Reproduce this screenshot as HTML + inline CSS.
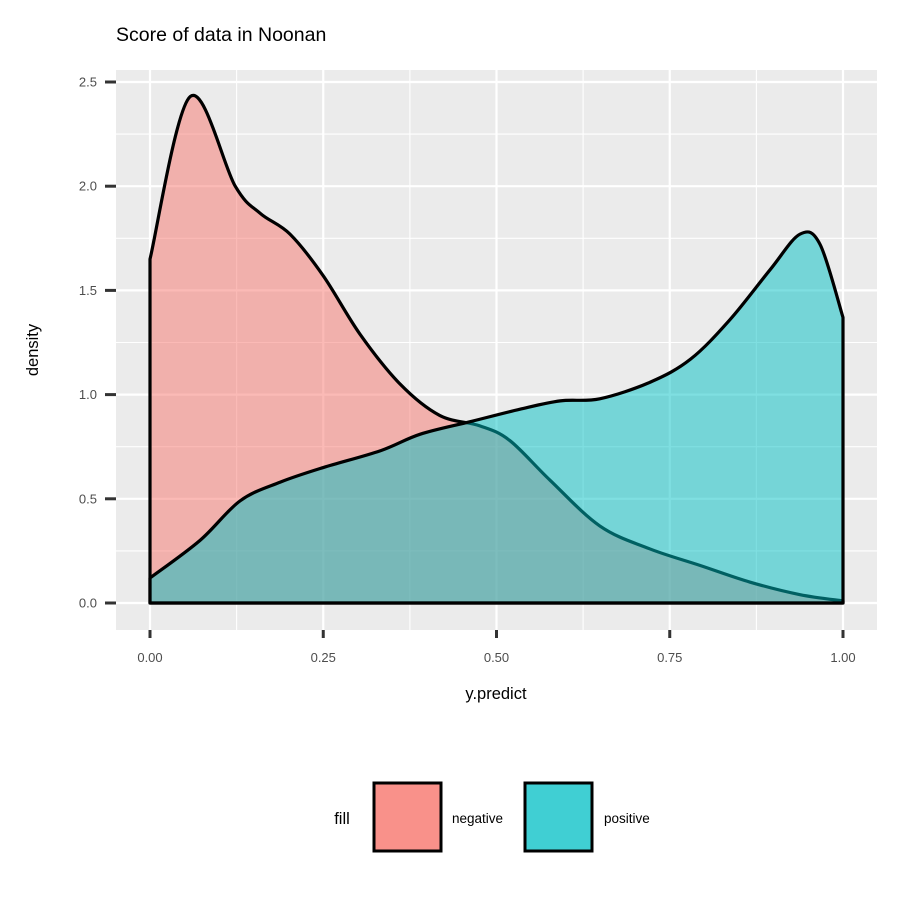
<!DOCTYPE html>
<html><head><meta charset="utf-8"><style>
body{margin:0;background:#fff;font-family:"Liberation Sans",sans-serif}
</style></head><body>
<svg id="chart" width="900" height="900" viewBox="0 0 900 900" xmlns="http://www.w3.org/2000/svg">
<rect width="900" height="900" fill="#fff"/>
<text x="116" y="41" font-size="19.5" fill="#000">Score of data in Noonan</text>
<rect x="116" y="70" width="761" height="560" fill="#ebebeb"/>
<g id="grid"></g>
<g id="areas"></g>
<g id="axes"></g>
<text x="496" y="699" font-size="16.5" text-anchor="middle">y.predict</text>
<text transform="translate(38,350) rotate(-90)" font-size="16.5" text-anchor="middle">density</text>
<g>
<text x="342" y="824" font-size="16.5" text-anchor="middle">fill</text>
<rect x="374" y="783" width="67" height="68" fill="#F8766D" fill-opacity="0.8" stroke="#000" stroke-width="3"/>
<text x="452" y="823" font-size="13.5">negative</text>
<rect x="525" y="783" width="67" height="68" fill="#00BFC4" fill-opacity="0.75" stroke="#000" stroke-width="3"/>
<text x="604" y="823" font-size="13.5">positive</text>
</g>
</svg>
<script>
const negX=[0,0.058,0.123,0.159,0.202,0.25,0.303,0.361,0.418,0.476,0.519,0.577,0.649,0.721,0.794,0.866,0.938,1];
const negY=[1.65,2.43,2.0,1.87,1.77,1.57,1.29,1.05,0.90,0.85,0.78,0.59,0.37,0.26,0.18,0.10,0.04,0.01];
const posX=[0,0.072,0.13,0.188,0.25,0.332,0.39,0.462,0.534,0.592,0.649,0.722,0.78,0.837,0.895,0.938,0.967,1];
const posY=[0.12,0.30,0.49,0.58,0.65,0.73,0.81,0.87,0.93,0.97,0.98,1.06,1.17,1.36,1.60,1.77,1.72,1.37];
const xTicks=[0,0.25,0.5,0.75,1];
const xTickLabels=["0.00","0.25","0.50","0.75","1.00"];
const yTicks=[0,0.5,1,1.5,2,2.5];
const yTickLabels=["0.0","0.5","1.0","1.5","2.0","2.5"];
const NS="http://www.w3.org/2000/svg";
const sx=v=>150+v*693, sy=v=>603-v*208.4;
function mk(tag,attrs,parent){const e=document.createElementNS(NS,tag);for(const k in attrs)e.setAttribute(k,attrs[k]);parent.appendChild(e);return e;}
const grid=document.getElementById('grid'),axes=document.getElementById('axes'),areas=document.getElementById('areas');
for(let i=0;i<xTicks.length;i++){
  const l=mk('line',{x1:sx(xTicks[i]),x2:sx(xTicks[i]),y1:70,y2:630,stroke:'#fff','stroke-width':2.2},grid);
  
  
  if(i<xTicks.length-1){const m=(xTicks[i]+xTicks[i+1])/2;
    const ml=mk('line',{x1:sx(m),x2:sx(m),y1:70,y2:630,stroke:'#fff','stroke-width':1.1},grid);
    
    }
  const t=mk('line',{x1:sx(xTicks[i]),x2:sx(xTicks[i]),y1:630,y2:638,stroke:'#333','stroke-width':3},axes);
  
  
  const tx=mk('text',{x:sx(xTicks[i]),y:662,'font-size':13,fill:'#4d4d4d','text-anchor':'middle'},axes);
  tx.textContent=xTickLabels[i];
  
  
}
for(let i=0;i<yTicks.length;i++){
  const l=mk('line',{x1:116,x2:877,y1:sy(yTicks[i]),y2:sy(yTicks[i]),stroke:'#fff','stroke-width':2.2},grid);
  
  
  if(i<yTicks.length-1){const m=(yTicks[i]+yTicks[i+1])/2;
    const ml=mk('line',{x1:116,x2:877,y1:sy(m),y2:sy(m),stroke:'#fff','stroke-width':1.1},grid);
    
    }
  const t=mk('line',{x1:105,x2:116,y1:sy(yTicks[i]),y2:sy(yTicks[i]),stroke:'#333','stroke-width':3},axes);
  
  
  const tx=mk('text',{x:97,y:sy(yTicks[i])+4.5,'font-size':13,fill:'#4d4d4d','text-anchor':'end'},axes);
  tx.textContent=yTickLabels[i];
  
  
}
function curve(xs,ys){
  const p=xs.map((x,i)=>[sx(x),sy(ys[i])]);
  let d=`M${p[0][0]},${sy(0)} L${p[0][0]},${p[0][1]}`;
  for(let i=0;i<p.length-1;i++){
    const p0=p[Math.max(0,i-1)],p1=p[i],p2=p[i+1],p3=p[Math.min(p.length-1,i+2)];
    const c1=[p1[0]+(p2[0]-p0[0])/6,p1[1]+(p2[1]-p0[1])/6];
    const c2=[p2[0]-(p3[0]-p1[0])/6,p2[1]-(p3[1]-p1[1])/6];
    d+=` C${c1[0]},${c1[1]} ${c2[0]},${c2[1]} ${p2[0]},${p2[1]}`;
  }
  d+=` L${p[p.length-1][0]},${sy(0)} Z`;
  return d;
}
const n=mk('path',{d:curve(negX,negY),fill:'#F8766D','fill-opacity':0.5,stroke:'#000','stroke-width':3.2,'stroke-linejoin':'round'},areas);


const p=mk('path',{d:curve(posX,posY),fill:'#00BFC4','fill-opacity':0.5,stroke:'#000','stroke-width':3.2,'stroke-linejoin':'round'},areas);


</script>
</body></html>
